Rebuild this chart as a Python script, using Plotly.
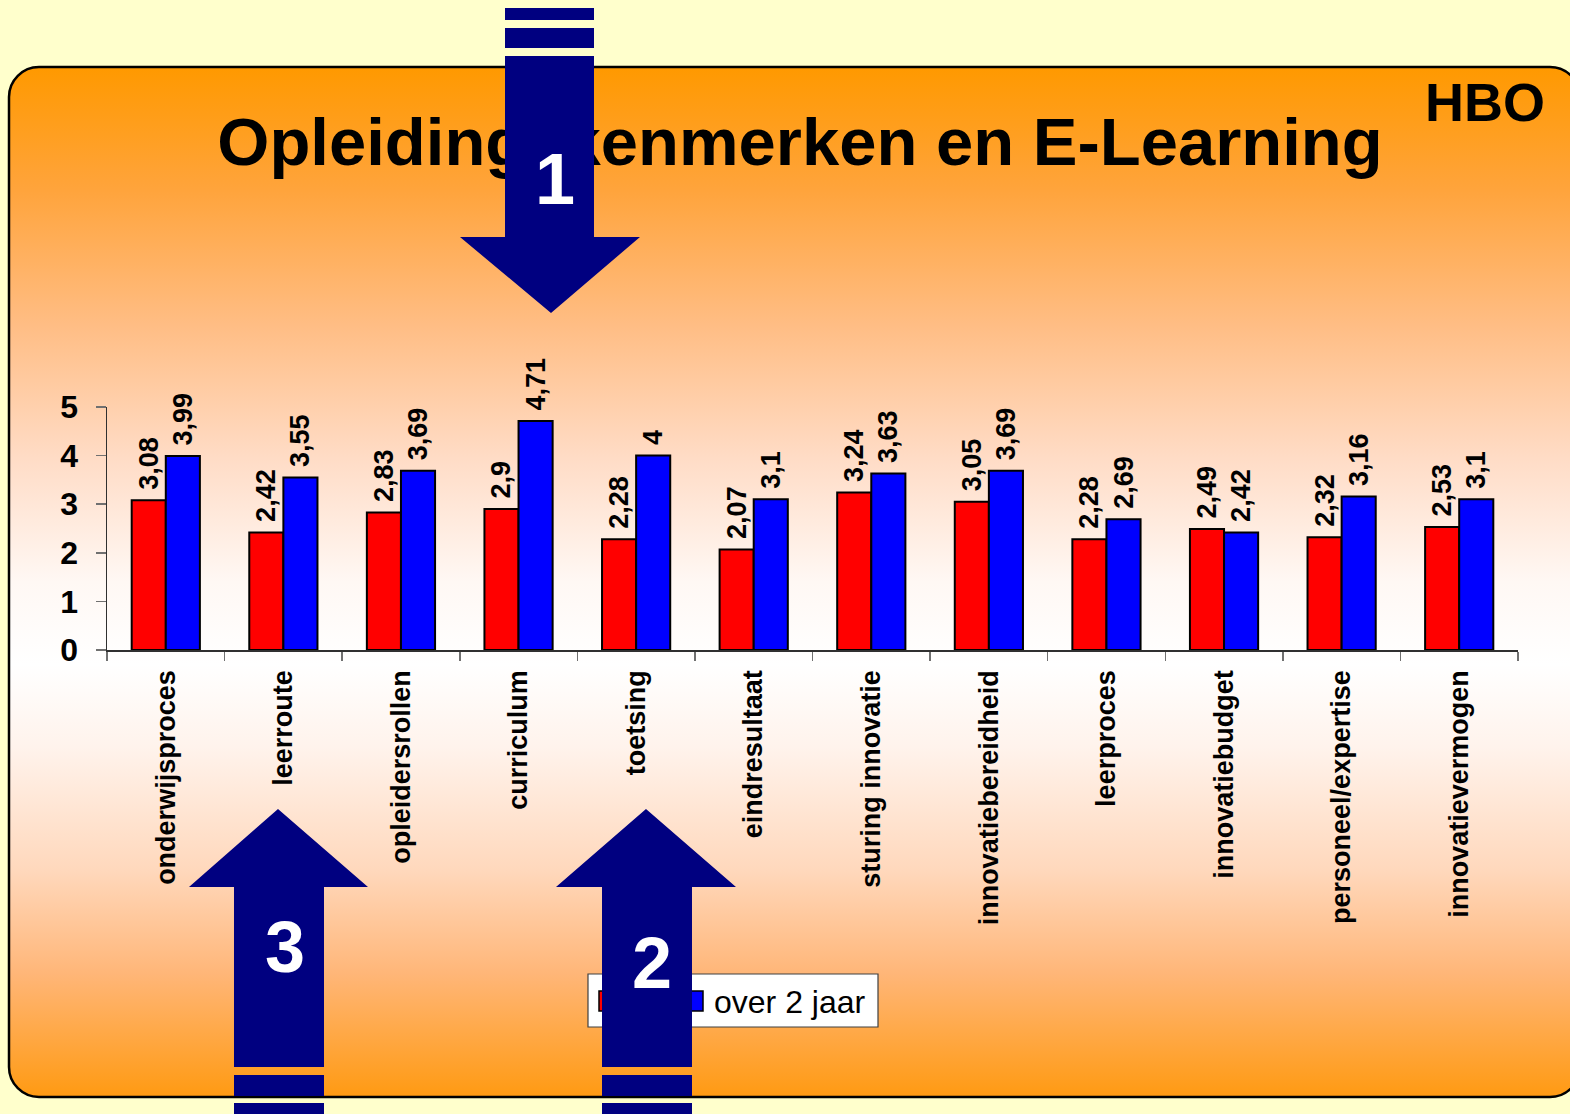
import base64
import plotly.graph_objects as go

# ---------------- data ----------------
categories = ["onderwijsproces", "leerroute", "opleidersrollen", "curriculum", "toetsing",
              "eindresultaat", "sturing innovatie", "innovatiebereidheid", "leerproces",
              "innovatiebudget", "personeel/expertise", "innovatievermogen"]
series_names = ["nu", "over 2 jaar"]
nu_values = [3.08, 2.42, 2.83, 2.9, 2.28, 2.07, 3.24, 3.05, 2.28, 2.49, 2.32, 2.53]
over2_values = [3.99, 3.55, 3.69, 4.71, 4.0, 3.1, 3.63, 3.69, 2.69, 2.42, 3.16, 3.1]
y_ticks = [0, 1, 2, 3, 4, 5]
title_text = "Opleidingskenmerken en E-Learning"
corner_text = "HBO"
arrow_numbers = ["1", "2", "3"]

W, H = 1570, 1114
FONT = "Liberation Sans, Arial, sans-serif"


def px(x):
    return x / W


def py(y):
    return 1 - y / H


def label_fmt(v):
    # non-breaking space gives the small gap seen between bar top and rotated label
    return "\u00a0" + f"{v:g}".replace(".", ",")


# ---------------- background (rounded gradient panel) ----------------
stops = [(0.00, "#FF9900"), (0.12, "#FFA43C"), (0.25, "#FFBD84"), (0.38, "#FFDCC6"),
         (0.50, "#FFF8F4"), (0.58, "#FFFFFF"), (0.66, "#FFF3EC"), (0.78, "#FFD8BC"),
         (0.88, "#FFB678"), (1.00, "#FF9A12")]
stop_svg = "".join(f'<stop offset="{o}" stop-color="{c}"/>' for o, c in stops)
svg = (f'<svg xmlns="http://www.w3.org/2000/svg" width="{W}" height="{H}" viewBox="0 0 {W} {H}">'
       f'<defs><linearGradient id="g" x1="0" y1="0" x2="0" y2="1">{stop_svg}</linearGradient></defs>'
       f'<rect x="9" y="67" width="1571" height="1030" rx="30" ry="30" fill="url(#g)" '
       f'stroke="black" stroke-width="2.5"/></svg>')
bg_src = "data:image/svg+xml;base64," + base64.b64encode(svg.encode()).decode()

# ---------------- figure ----------------
fig = go.Figure()
for vals, name, color in [(nu_values, series_names[0], "#FF0000"),
                          (over2_values, series_names[1], "#0000FF")]:
    fig.add_trace(go.Bar(
        x=categories, y=vals, name=name,
        marker=dict(color=color, line=dict(color="black", width=2)),
        text=[label_fmt(v) for v in vals], textposition="outside", textangle=-90,
        textfont=dict(family=FONT, size=27, color="black", weight="bold"),
        constraintext="none", cliponaxis=False, showlegend=False))

fig.update_layout(
    width=W, height=H, autosize=False,
    margin=dict(l=0, r=0, t=0, b=0, pad=0, autoexpand=False),
    paper_bgcolor="#FFFFCC", plot_bgcolor="rgba(0,0,0,0)",
    barmode="group", bargap=0.42, bargroupgap=0,
    separators=",.",
    showlegend=False,
    xaxis=dict(domain=[px(107), px(1518)], automargin=False, showgrid=False, showline=True,
               linecolor="#303030", linewidth=1.5, ticks="outside", tickson="boundaries",
               ticklen=9, tickcolor="#707070", tickwidth=1.5, tickangle=-90, ticklabelstandoff=8,
               tickfont=dict(family=FONT, size=27, color="black", weight="bold"),
               fixedrange=True),
    yaxis=dict(domain=[py(650), py(407)], automargin=False, range=[0, 5], tickvals=y_ticks,
               showgrid=False, zeroline=False, showline=True, linecolor="#303030", linewidth=1.5,
               ticks="outside", ticklen=10, tickcolor="#707070", tickwidth=1.5,
               ticklabelstandoff=11,
               tickfont=dict(family=FONT, size=32, color="black", weight="bold"),
               fixedrange=True),
    images=[dict(source=bg_src, xref="paper", yref="paper", x=0, y=1, sizex=1, sizey=1,
                 xanchor="left", yanchor="top", sizing="stretch", layer="below")],
)

shapes = []
NAVY = "#000080"


def text_shape(x0, y0, x1, y1, text, size, color, pos="middle center", bold=True):
    t = f"<b>{text}</b>" if bold else text
    return dict(type="rect", xref="paper", yref="paper", x0=px(x0), x1=px(x1), y0=py(y1), y1=py(y0),
                line=dict(width=0), fillcolor="rgba(0,0,0,0)", layer="above",
                label=dict(text=t, textposition=pos, padding=0,
                           font=dict(family=FONT, size=size, color=color)))


def rect_shape(x0, y0, x1, y1, fill, line_color=None, lw=0):
    return dict(type="rect", xref="paper", yref="paper", x0=px(x0), x1=px(x1), y0=py(y1), y1=py(y0),
                fillcolor=fill, line=dict(width=lw, color=line_color or fill), layer="above")


def path_shape(points, fill):
    d = "M " + " L ".join(f"{px(x):.5f},{py(y):.5f}" for x, y in points) + " Z"
    return dict(type="path", xref="paper", yref="paper", path=d, fillcolor=fill,
                line=dict(width=0), layer="above")


# title (drawn as shape label so the arrow can cover it)
shapes.append(text_shape(150, 97, 1450, 173, title_text, 67, "black"))

# legend box (drawn underneath arrow 2)
shapes.append(rect_shape(588, 974, 878, 1027, "white", "#404040", 1.2))
shapes.append(rect_shape(599, 991, 611, 1011, "#FF0000", "black", 1.5))
shapes.append(text_shape(616, 985, 690, 1017, series_names[0], 30, "black", "middle left", bold=False))
shapes.append(rect_shape(691, 991, 703, 1011, "#0000FF", "black", 1.5))
shapes.append(text_shape(711, 981, 878, 1017, series_names[1], 32, "black", "middle left", bold=False))

# arrow 1 (down)
shapes.append(rect_shape(505, 8, 594, 20, NAVY))
shapes.append(rect_shape(505, 28, 594, 48, NAVY))
shapes.append(path_shape([(505, 56), (594, 56), (594, 237), (640, 237), (551, 313),
                          (460, 237), (505, 237)], NAVY))
# arrow 3 (up)
shapes.append(path_shape([(234, 1067), (234, 887), (189, 887), (278, 809), (368, 887),
                          (324, 887), (324, 1067)], NAVY))
shapes.append(rect_shape(234, 1075, 324, 1096, NAVY))
shapes.append(rect_shape(234, 1103, 324, 1116, NAVY))
# arrow 2 (up)
shapes.append(path_shape([(602, 1067), (602, 887), (556, 887), (646, 809), (736, 887),
                          (692, 887), (692, 1067)], NAVY))
shapes.append(rect_shape(602, 1075, 692, 1096, NAVY))
shapes.append(rect_shape(602, 1103, 692, 1116, NAVY))

# arrow numbers
shapes.append(text_shape(515, 132, 595, 212, arrow_numbers[0], 72, "white"))
shapes.append(text_shape(612, 916, 692, 996, arrow_numbers[1], 72, "white"))
shapes.append(text_shape(245, 900, 325, 980, arrow_numbers[2], 72, "white"))

fig.update_layout(shapes=shapes)

fig.add_annotation(text=f"<b>{corner_text}</b>", xref="paper", yref="paper",
                   x=px(1485), y=py(102), xanchor="center", yanchor="middle", showarrow=False,
                   font=dict(family=FONT, size=54, color="black"))

fig.write_html("out.html",
               config={"displayModeBar": False, "staticPlot": True},
               post_script="document.body.style.margin='0';"
                           "document.body.style.background='#FFFFCC';")
